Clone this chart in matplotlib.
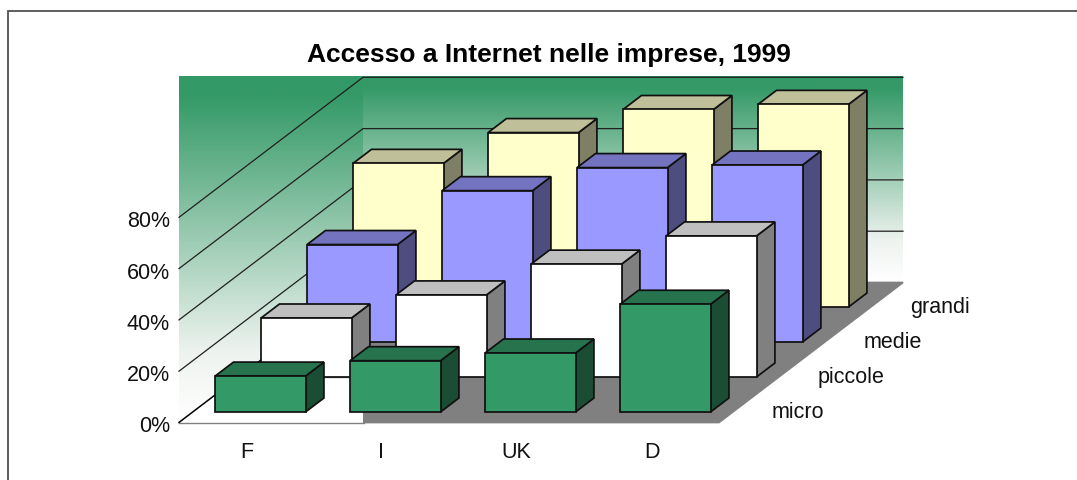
import numpy as np
import matplotlib
matplotlib.use('Agg')
import matplotlib.pyplot as plt
from matplotlib.colors import LinearSegmentedColormap
from matplotlib.patches import Polygon

plt.rcParams['font.family'] = ['Liberation Sans', 'DejaVu Sans']

countries = ['F', 'I', 'UK', 'D']
sizes = ['micro', 'piccole', 'medie', 'grandi']
micro = [14, 20, 23, 42]
piccole = [23, 32, 44, 55]
medie = [38, 59, 68, 69]
grandi = [56, 68, 77, 79]
yticks = [0, 20, 40, 60, 80]

W, H = 1077, 481
fig = plt.figure(figsize=(W / 100, H / 100), dpi=100)
ax = fig.add_axes([0, 0, 1, 1])
ax.set_xlim(0, W)
ax.set_ylim(H, 0)
ax.axis('off')

# oblique projection: category, depth row, percent -> figure pixels
X0, Y0 = 179, 423.5
CAT_W = 135
ROW_DX, ROW_DY = 46, 35
PCT = 2.565


def proj(c, d, v):
    return (X0 + c * CAT_W + d * ROW_DX, Y0 - d * ROW_DY - v * PCT)


def poly(pts, fc, ec='#101010', lw=1.25, z=2):
    ax.add_patch(Polygon(pts, closed=True, fc=fc, ec=ec, lw=lw, zorder=z, joinstyle='miter'))


green = '#339966'
fade = LinearSegmentedColormap.from_list('fade', [(0, green), (0.05, green), (0.8, '#eef3ef'), (1, '#ffffff')])
grad = np.linspace(0, 1, 256).reshape(-1, 1)

# walls
top = proj(0, 4, 80)[1]
wall_x = proj(0, 4, 0)[0]
ax.imshow(grad, cmap=fade, extent=(X0, wall_x, Y0, top), aspect='auto', zorder=1)
ax.imshow(grad, cmap=fade, extent=(wall_x, proj(4, 4, 0)[0], proj(0, 4, 0)[1], top), aspect='auto', zorder=1)
ax.set_xlim(0, W)
ax.set_ylim(H, 0)
# hide the part of the left gradient under the floor line
poly([proj(0, 0, 0), proj(0, 4, 0), (wall_x, Y0)], 'white', ec='none', lw=0, z=1.2)

# floor
poly([proj(0, 0, 0), proj(4, 0, 0), proj(4, 4, 0), proj(0, 4, 0)], '#808080', ec='#808080', z=1.5)
poly([proj(0, 0, 0), (wall_x, Y0), (wall_x, proj(0, 1.29, 0)[1]), proj(0, 1.29, 0)], 'white', ec='none', lw=0, z=1.6)
ax.plot([proj(0, 1.29, 0)[0], wall_x], [proj(0, 1.29, 0)[1]] * 2, color='#808080', lw=1, zorder=1.7)
ax.plot([X0, wall_x + 1], [Y0, Y0], color='#808080', lw=1, zorder=1.7)
ax.plot(*zip(proj(0, 0, 0), proj(0, 4, 0)), color='black', lw=1, zorder=1.7)

# gridlines
for v in yticks[1:]:
    ax.plot(*zip(proj(0, 0, v), proj(0, 4, v), proj(4, 4, v)), color='#202020', lw=0.9, zorder=1.8)

# bars, back row first
series = [
    (grandi, 3, '#ffffcc', '#bfbf99', '#7f7f66'),
    (medie, 2, '#9999ff', '#7373bf', '#4d4d7f'),
    (piccole, 1, '#ffffff', '#bfbfbf', '#808080'),
    (micro, 0, green, '#26734d', '#1a4d33'),
]
for vals, row, front, cap, side in series:
    for i, v in enumerate(vals):
        c0, c1 = i + 0.165, i + 0.835
        d0, d1 = row + 0.3, row + 0.7
        poly([proj(c1, d0, 0), proj(c1, d1, 0), proj(c1, d1, v), proj(c1, d0, v)], side)
        poly([proj(c0, d0, v), proj(c1, d0, v), proj(c1, d1, v), proj(c0, d1, v)], cap)
        poly([proj(c0, d0, 0), proj(c1, d0, 0), proj(c1, d0, v), proj(c0, d0, v)], front)

# labels
for v in yticks:
    ax.text(170, proj(0, 0, v)[1] + 3.5, '%d%%' % v, ha='right', va='center', fontsize=15.5, color='#111111')
for i, name in enumerate(countries):
    ax.text(X0 + (i + 0.5) * CAT_W, 453, name, ha='center', va='center', fontsize=15.5, color='#111111')
for i, name in enumerate(sizes):
    x, y = proj(4, i + 0.5, 0)
    ax.text(x + 30, y + 7, name, ha='left', va='center', fontsize=15.5, color='#111111')

ax.text(549, 55, 'Accesso a Internet nelle imprese, 1999', ha='center', va='center',
        fontsize=19, fontweight='bold', color='black')

# chart frame, only the top and left edges are in the picture
ax.plot([8, 8, W], [H, 11.5, 11.5], color='#505050', lw=1.3, zorder=5, solid_joinstyle='miter')

fig.savefig('out.png', dpi=100)
